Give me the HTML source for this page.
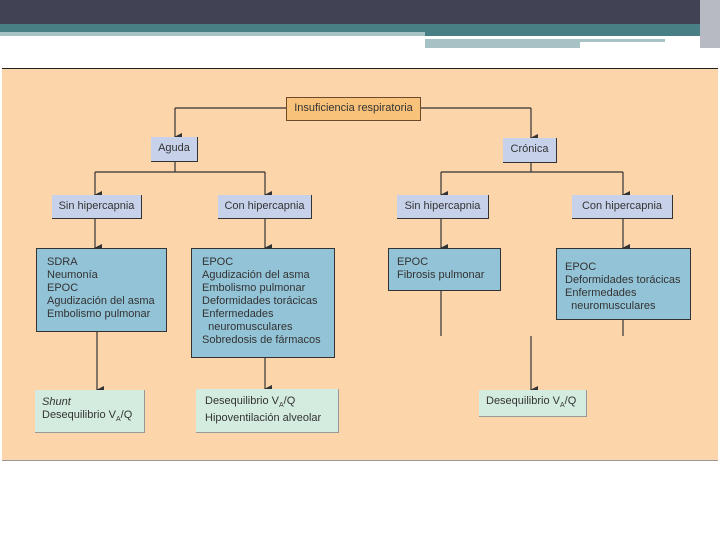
<!DOCTYPE html>
<html><head><meta charset="utf-8"><style>
body{margin:0;width:720px;height:540px;background:#fff;position:relative;overflow:hidden;font-family:"Liberation Sans",sans-serif}
div{position:absolute;box-sizing:border-box}
.t{font-size:11px;color:#333;line-height:13px}
.o{background:#f9c27a;border:1px solid #6a4a2a;text-align:center;padding-top:4px}
.g{background:#c7d2ea;border-right:1.5px solid #333;border-bottom:1.5px solid #333;text-align:center;padding-top:5px}
.b{background:#93c3d6;border:1.5px solid #333;padding:7px 0 0 10px}
.gr{background:#d4ecdf;border-right:1px solid #999;border-bottom:1px solid #999;padding:6px 0 0 7px}
</style></head><body>
<div style="left:0;top:0;width:720px;height:24px;background:#414355"></div>
<div style="left:0;top:24px;width:720px;height:8px;background:#477f84"></div>
<div style="left:0;top:32px;width:425px;height:4px;background:#a7c2c5"></div>
<div style="left:425px;top:32px;width:285px;height:4px;background:#477f84"></div>
<div style="left:425px;top:39px;width:240px;height:3px;background:#a7c2c5"></div>
<div style="left:425px;top:42px;width:155px;height:6px;background:#a7c2c5"></div>
<div style="left:700px;top:0;width:20px;height:48px;background:#b7b9c3"></div>
<div style="left:2px;top:68px;width:716px;height:393px;background:#fdd5ab;border-top:1.5px solid #222;border-bottom:1px solid #999"></div>
<svg style="position:absolute;left:0;top:0" width="720" height="540">
<defs><marker id="a" markerWidth="8" markerHeight="8" refX="4" refY="7" orient="auto" markerUnits="userSpaceOnUse"><path d="M0,0 L8,0 L4,8z" fill="#333"/></marker></defs>
<g stroke="#333" stroke-width="1.2" fill="none">
<path d="M175,108H531"/>
<path d="M175,108V137" marker-end="url(#a)"/><path d="M531,108V138" marker-end="url(#a)"/>
<path d="M175,162V172M95,172H265M441,172H623M531,163V172"/>
<path d="M95,172V195" marker-end="url(#a)"/><path d="M265,172V195" marker-end="url(#a)"/>
<path d="M441,172V195" marker-end="url(#a)"/><path d="M623,172V195" marker-end="url(#a)"/>
<path d="M95,219V248" marker-end="url(#a)"/><path d="M265,219V248" marker-end="url(#a)"/>
<path d="M441,219V248" marker-end="url(#a)"/><path d="M623,219V248" marker-end="url(#a)"/>
<path d="M97,331V390" marker-end="url(#a)"/><path d="M265,357V389" marker-end="url(#a)"/>
<path d="M441,290V336M623,319V336"/>
<path d="M531,336V390" marker-end="url(#a)"/>
</g></svg>
<div class="t o" style="left:286px;top:97px;width:135px;height:24px">Insuficiencia respiratoria</div>
<div class="t g" style="left:151px;top:137px;width:47px;height:25px">Aguda</div>
<div class="t g" style="left:503px;top:138px;width:54px;height:25px">Crónica</div>
<div class="t g" style="left:52px;top:195px;width:90px;height:24px">Sin hipercapnia</div>
<div class="t g" style="left:218px;top:195px;width:94px;height:24px">Con hipercapnia</div>
<div class="t g" style="left:397px;top:195px;width:92px;height:24px">Sin hipercapnia</div>
<div class="t g" style="left:572px;top:195px;width:101px;height:24px">Con hipercapnia</div>
<div class="t b" style="left:36px;top:248px;width:131px;height:84px">SDRA<br>Neumonía<br>EPOC<br>Agudización del asma<br>Embolismo pulmonar</div>
<div class="t b" style="left:191px;top:248px;width:144px;height:110px">EPOC<br>Agudización del asma<br>Embolismo pulmonar<br>Deformidades torácicas<br>Enfermedades<br>&nbsp;&nbsp;neuromusculares<br>Sobredosis de fármacos</div>
<div class="t b" style="left:388px;top:248px;width:113px;height:43px;padding-left:8px">EPOC<br>Fibrosis pulmonar</div>
<div class="t b" style="left:556px;top:248px;width:135px;height:72px;padding-top:12px;padding-left:8px">EPOC<br>Deformidades torácicas<br>Enfermedades<br>&nbsp;&nbsp;neuromusculares</div>
<div class="t gr" style="left:35px;top:390px;width:110px;height:43px"><i>Shunt</i><br>Desequilibrio V<sub style="font-size:7px">A</sub>/Q</div>
<div class="t gr" style="left:196px;top:389px;width:143px;height:44px;padding-left:9px">Desequilibrio V<sub style="font-size:7px">A</sub>/Q<br>Hipoventilación alveolar</div>
<div class="t gr" style="left:479px;top:390px;width:108px;height:27px;padding-top:5px">Desequilibrio V<sub style="font-size:7px">A</sub>/Q</div>
</body></html>
